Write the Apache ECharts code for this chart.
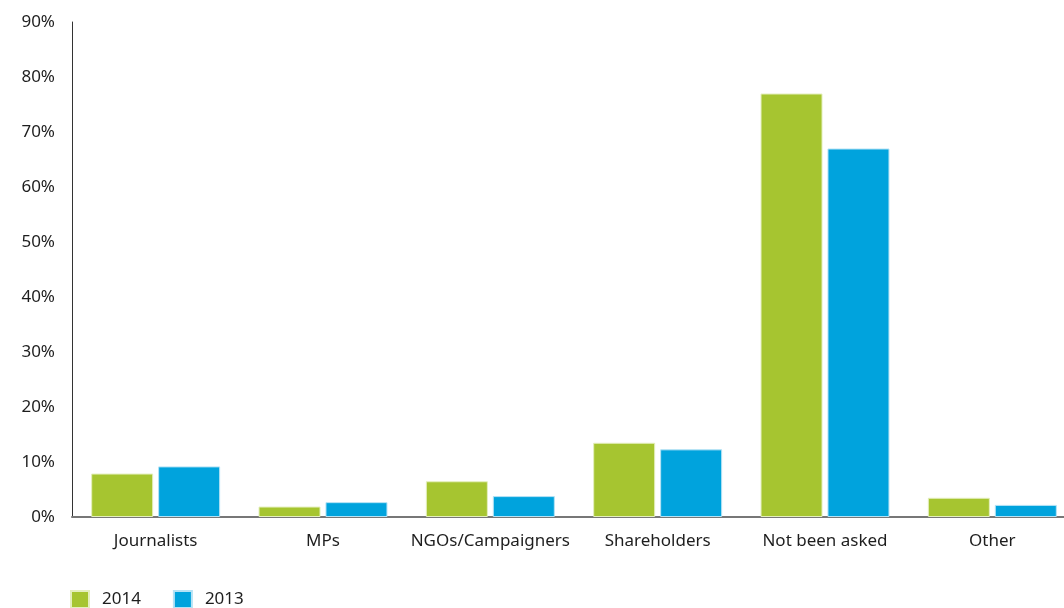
<!DOCTYPE html>
<html>
<head>
<meta charset="utf-8">
<script src="https://cdn.jsdelivr.net/npm/echarts@6/dist/echarts.min.js"></script>
<style>
  html, body { margin: 0; padding: 0; background: #fff; }
  #chart { width: 1064px; height: 608px; }
</style>
</head>
<body>
<div id="chart"></div>
<script>
// Who has asked about the topic, share of respondents by year
const categories = ['Journalists', 'MPs', 'NGOs/Campaigners', 'Shareholders', 'Not been asked', 'Other'];
const values2014 = [7.9, 1.9, 6.5, 13.5, 77, 3.5];
const values2013 = [9.2, 2.7, 3.8, 12.3, 67, 2.2];
const yTicks = [0, 10, 20, 30, 40, 50, 60, 70, 80, 90];

const FONT = '"Noto Sans", "Open Sans", sans-serif';
const GREEN = '#a6c530';
const BLUE = '#00a3dd';

const chart = echarts.init(document.getElementById('chart'), null, { renderer: 'canvas' });

chart.setOption({
  animation: false,
  backgroundColor: '#ffffff',
  textStyle: { fontFamily: FONT },
  grid: { left: 72, top: 22, width: 1004, height: 495, containLabel: false, outerBoundsMode: 'none' },
  legend: {
    left: 70,
    top: 590,
    padding: 0,
    itemWidth: 18,
    itemHeight: 17,
    itemGap: 32,
    icon: 'rect',
    textStyle: { fontFamily: FONT, fontSize: 17, color: '#1e1e1e', padding: [0, 0, 0, 8] },
    data: ['2014', '2013']
  },
  xAxis: {
    type: 'category',
    data: categories,
    axisLine: { show: true, lineStyle: { color: '#777', width: 2 } },
    axisTick: { show: false },
    axisLabel: { interval: 0, fontFamily: FONT, fontSize: 17, color: '#1e1e1e', margin: 16 }
  },
  yAxis: {
    type: 'value',
    min: yTicks[0],
    max: yTicks[yTicks.length - 1],
    interval: 10,
    axisLine: { show: true, lineStyle: { color: '#333', width: 1 } },
    axisTick: { show: false },
    splitLine: { show: false },
    axisLabel: { fontFamily: FONT, fontSize: 17, color: '#1e1e1e', margin: 17, formatter: v => v + '%' }
  },
  series: [
    {
      name: '2014',
      type: 'bar',
      data: values2014,
      barWidth: 62,
      barGap: '8%',
      itemStyle: { color: GREEN, borderColor: '#e4efbd', borderWidth: 1 }
    },
    {
      name: '2013',
      type: 'bar',
      data: values2013,
      barWidth: 62,
      barGap: '8%',
      itemStyle: { color: BLUE, borderColor: '#b5e2f5', borderWidth: 1 }
    }
  ]
});
</script>
</body>
</html>
